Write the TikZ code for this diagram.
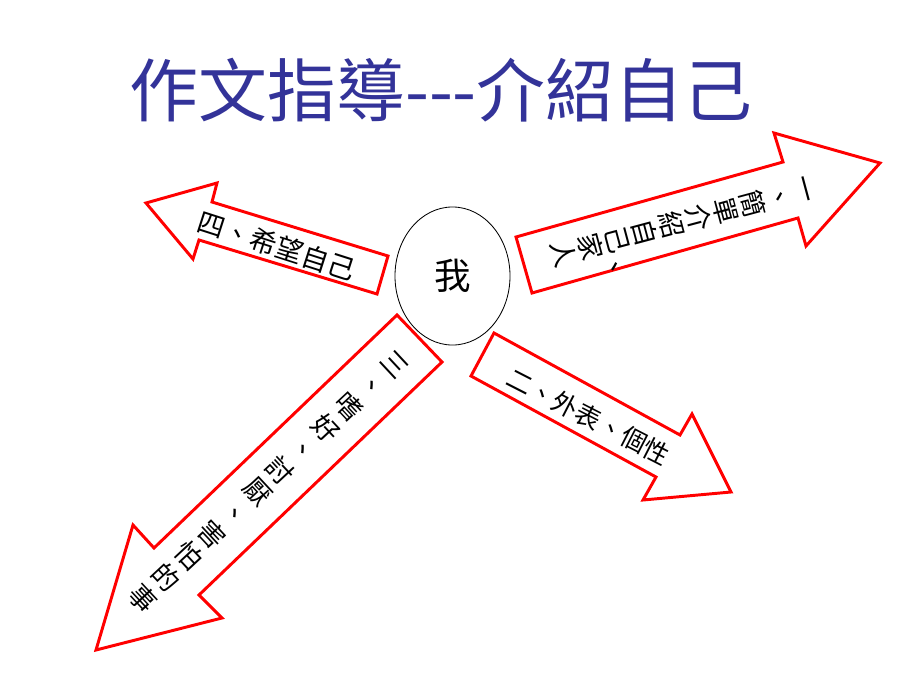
\documentclass[tikz,border=0pt]{standalone}
\usepackage{fontspec}
\usetikzlibrary{shapes.geometric}
\newfontfamily\cjk{Noto Sans CJK TC}
\definecolor{titleblue}{RGB}{51,51,153}

\begin{document}
\begin{tikzpicture}[x=0.025cm, y=-0.025cm,
  blockarrow/.style={draw=red, line width=2.1pt, fill=white, line join=miter},
  htext/.style={font=\cjk\fontsize{#1}{#1}\selectfont, inner sep=0pt},
  vtext/.style={font=\cjk\fontsize{19pt}{#1}\selectfont, align=center, inner sep=0pt}]
  % Page
  \fill[white] (0,0) rectangle (920,690);
  \useasboundingbox (0,0) rectangle (920,690);

  % Title
  \node[font=\cjk\fontsize{49pt}{49pt}\selectfont, text=titleblue] (title) at (441,90)
    {作文指導-\kern0pt-\kern0pt-介紹自己};

  % Block arrows
  \draw[blockarrow] (516,237) -- (783,162) -- (774,133) -- (880,163) -- (806,246) -- (798,218) -- (532,293) -- cycle;
  \draw[blockarrow] (146,203) -- (217,183) -- (212,202) -- (388,256) -- (377,294) -- (199,240) -- (193,259) -- cycle;
  \draw[blockarrow] (494,333) -- (680,435) -- (692,414) -- (731,492) -- (643,500) -- (656,477) -- (471,376) -- cycle;
  \draw[blockarrow] (397,315) -- (442,362) -- (199,595) -- (222,618) -- (96,650) -- (133,525) -- (154,548) -- cycle;

  % Arrow texts
  \node[vtext=19.8pt, rotate=-75] (one) at (680,223) {一\\、\\簡\\單\\介\\紹\\自\\己\\家\\人};
  \node[htext=19pt, rotate=-75] (onecomma) at (612,268) {、};
  \node[htext=18.2pt, rotate=-27.1] (two) at (588.3,416.7) {二、外表、個性};
  \node[vtext=22.2pt, rotate=-47] (three) at (268,482) {三\\、\\嗜\\好\\、\\討\\厭\\、\\害\\怕\\的\\事};
  \node[htext=19.4pt, rotate=-17.8] (four) at (276.7,245.8) {四、希望自己};

  % Centre
  \node[draw, ellipse, line width=0.6pt, minimum width=2.875cm, minimum height=3.45cm,
    font=\cjk\fontsize{26pt}{26pt}\selectfont] (me) at (452.5,276) {我};
\end{tikzpicture}
\end{document}
